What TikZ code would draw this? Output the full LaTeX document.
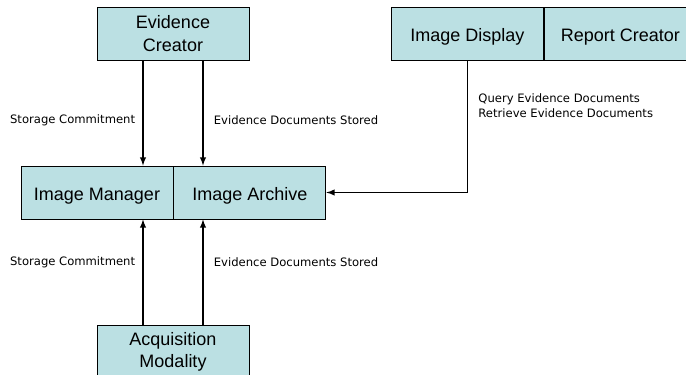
\documentclass[tikz,border=0pt]{standalone}
\usepackage{fontspec}
\setmainfont{Liberation Sans}
\newfontfamily\labelfont{DejaVu Sans}
\usetikzlibrary{positioning}
\definecolor{actorfill}{RGB}{187,224,227}

\begin{document}
\begin{tikzpicture}[
      x=1pt, y=1pt,
      >=latex,
      actor/.style={draw, fill=actorfill, line width=0.9pt, minimum width=152pt,
                    minimum height=53pt, inner sep=0pt, align=center,
                    font=\fontsize{18}{22.3}\selectfont},
      single/.style={text height=20.4pt, text depth=4pt},
      flow/.style={->, line width=1.8pt},
      msg/.style={font=\labelfont\fontsize{11.6}{15}\selectfont, inner sep=0pt},
  ]
    \useasboundingbox (0,0) rectangle (686,375);
    \clip (0,0) rectangle (686,375);

    % actors
    \node[actor] (creator) at (173,341.5) {Evidence\\Creator};
    \node[actor, single] (manager) at (97,182.5) {Image Manager};
    \node[actor, single, right=0pt of manager] (archive) {Image Archive};
    \node[actor] (modality) at (173,23.5) {Acquisition\\Modality};
    \node[actor, single] (display) at (467.5,341.5) {Image Display};
    \node[actor, single, right=0pt of display] (report) {Report Creator};

    % transactions
    \draw[flow] ([xshift=-30pt]creator.south) -- ([xshift=-30pt]creator.south |- manager.north)
      node[msg, pos=0.57, left=7pt] {Storage Commitment};
    \draw[flow] ([xshift=30pt]creator.south) -- ([xshift=30pt]creator.south |- archive.north)
      node[msg, pos=0.57, right=10pt] {Evidence Documents Stored};
    \draw[flow] ([xshift=-30pt]modality.north) -- ([xshift=-30pt]modality.north |- manager.south)
      node[msg, pos=0.59, left=7pt] {Storage Commitment};
    \draw[flow] ([xshift=30pt]modality.north) -- ([xshift=30pt]modality.north |- archive.south)
      node[msg, pos=0.59, right=10pt] {Evidence Documents Stored};
    \draw[flow] (display.south) |- (archive.east)
      node[msg, pos=0.17, right=10pt, align=left] {Query Evidence Documents\\Retrieve Evidence Documents};
\end{tikzpicture}
\end{document}
